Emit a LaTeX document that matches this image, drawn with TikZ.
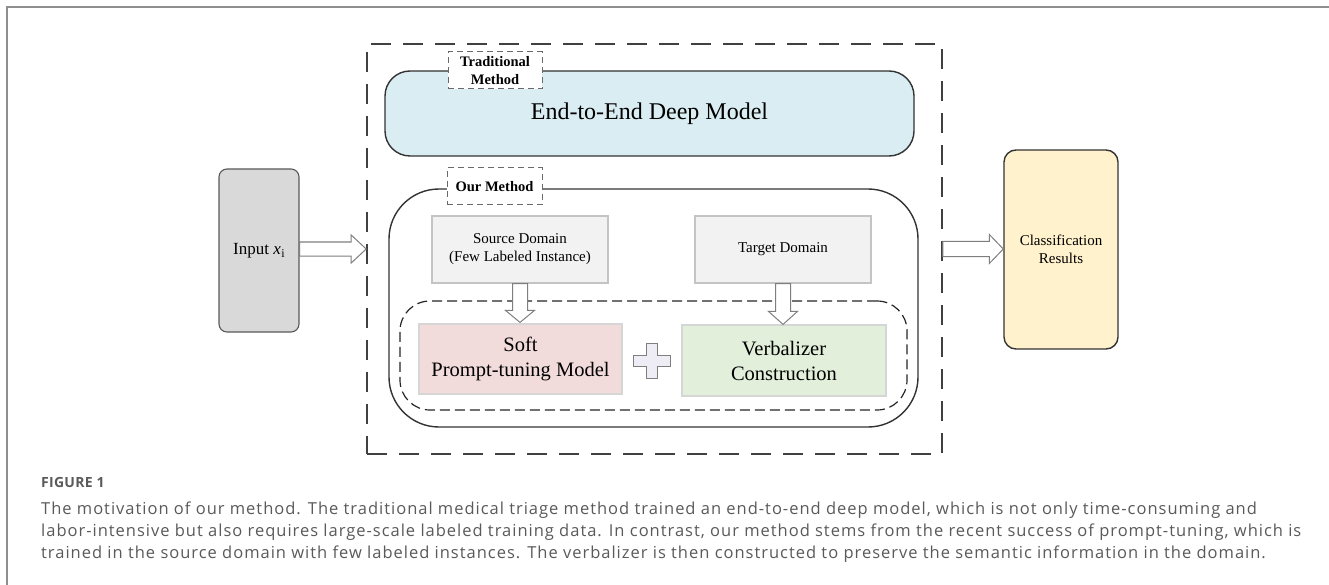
\documentclass[tikz,border=0pt]{standalone}
\usepackage{graphicx}
\usepackage{fontspec}
\setmainfont{Liberation Serif}
\newfontfamily\capfont[LetterSpace=6]{Open Sans}
\newfontfamily\figfont[LetterSpace=2]{Open Sans}
\usetikzlibrary{calc}
\definecolor{framegray}{HTML}{8E8E8E}
\definecolor{dashgray}{HTML}{404040}
\definecolor{lblgray}{HTML}{6A6A6A}
\definecolor{bluefill}{HTML}{DAEDF2}
\definecolor{boxgray}{HTML}{F2F2F2}
\definecolor{boxline}{HTML}{C4C4C4}
\definecolor{pinkfill}{HTML}{F2DCDB}
\definecolor{greenfill}{HTML}{E2EFDA}
\definecolor{yellowfill}{HTML}{FFF2CC}
\definecolor{inputfill}{HTML}{D9D9D9}
\definecolor{plusfill}{HTML}{EEEDF5}
\definecolor{arrowgray}{HTML}{7F7F7F}
\definecolor{captext}{HTML}{5A5A5A}
\tikzset{
  bigdash/.style={draw=dashgray, line width=1.6pt, dash pattern=on 20pt off 12pt, inner sep=0pt},
  roundbox/.style={draw=black!80, line width=1.4pt, inner sep=0pt, align=center},
  lblbox/.style={draw=lblgray, fill=white, line width=1pt, dash pattern=on 6pt off 4pt, inner sep=0pt, align=center, font=\fontsize{14.5}{18}\selectfont\bfseries},
  graybox/.style={draw=boxline, fill=boxgray, line width=1.2pt, inner sep=0pt, align=center, font=\fontsize{15}{18}\selectfont},
  modelbox/.style={draw=boxline!70, line width=1.2pt, inner sep=0pt, align=center, font=\fontsize{20.5}{25}\selectfont},
  innerdash/.style={draw=black!85, line width=1.2pt, dash pattern=on 10pt off 5pt, rounded corners=30pt, inner sep=0pt},
  blk/.style={draw=arrowgray, fill=white, line width=1pt, line join=miter},
  plusst/.style={draw=arrowgray, fill=plusfill, line width=1pt},
  capline/.style={anchor=base west, inner sep=0pt, text=captext, font=\capfont\fontsize{16.5}{20}\selectfont},
}
\begin{document}
\begin{tikzpicture}[x=1pt,y=-1pt]
\useasboundingbox (0,0) rectangle (1329,585);
\fill[white] (0,0) rectangle (1329,585);
% outer frame
\draw[framegray, line width=2pt] (7,590) -- (7,7) -- (1335,7);

% big dashed container
\node[bigdash, minimum width=575pt, minimum height=410pt] (big) at (654.5,249) {};

% traditional method
\node[roundbox, fill=bluefill, rounded corners=25pt, minimum width=529pt, minimum height=85pt,
      font=\fontsize{24}{28}\selectfont] (e2e) at (649.5,113.5) {End-to-End Deep Model};
\node[lblbox, minimum width=94pt, minimum height=37pt] (trad) at (495,70.5) {Traditional\\Method};

% our method
\node[roundbox, rounded corners=50pt, minimum width=529pt, minimum height=238pt] (our) at (653.5,308) {};
\node[lblbox, minimum width=95pt, minimum height=37pt] (ourlbl) at (494.5,186.5) {Our Method};

\node[graybox, minimum width=176pt, minimum height=67pt] (src) at (520,249.5) {Source Domain\\(Few Labeled Instance)};
\node[graybox, minimum width=176pt, minimum height=67pt] (tgt) at (783,249.5) {Target Domain};

\node[innerdash, minimum width=507pt, minimum height=109pt] (inner) at (653.5,355.5) {};

\node[modelbox, fill=pinkfill, minimum width=203pt, minimum height=70pt] (soft) at (520.5,359) {Soft\\Prompt-tuning Model};
\node[modelbox, fill=greenfill, minimum width=204pt, minimum height=71pt] (verb) at (784,360.5) {Verbalizer\\Construction};

% plus sign
\coordinate (plus) at (651.5,360.5);
\draw[plusst] let \p1=(plus) in
  (\x1-18.5pt,\y1+5.5pt) -- (\x1-5.5pt,\y1+5.5pt) -- (\x1-5.5pt,\y1+17.5pt) -- (\x1+5.5pt,\y1+17.5pt)
  -- (\x1+5.5pt,\y1+5.5pt) -- (\x1+18.5pt,\y1+5.5pt) -- (\x1+18.5pt,\y1-5.5pt) -- (\x1+5.5pt,\y1-5.5pt)
  -- (\x1+5.5pt,\y1-17.5pt) -- (\x1-5.5pt,\y1-17.5pt) -- (\x1-5.5pt,\y1-5.5pt) -- (\x1-18.5pt,\y1-5.5pt) -- cycle;

% input and output
\node[draw=black!65, line width=1.1pt, fill=inputfill, rounded corners=8pt, minimum width=80pt, minimum height=163pt,
      inner sep=0pt, font=\fontsize{17}{20}\selectfont] (in) at (259,250.5)
      {Input \textit{x}\kern0.5pt\raisebox{-3.5pt}{\fontsize{12}{12}\selectfont i}};
\node[draw=black!80, line width=1.4pt, fill=yellowfill, rounded corners=12pt, minimum width=114pt, minimum height=199pt,
      inner sep=0pt, align=center, font=\fontsize{15}{18.5}\selectfont] (cls) at (1061,249.5) {Classification\\Results};

% block arrows
\draw[blk] let \p1=(in.east |- big.west), \p2=(big.west) in
  (\x1,\y1+7pt) -- (\x2-15pt,\y1+7pt) -- (\x2-15pt,\y1+14pt) -- (\x2,\y1) -- (\x2-15pt,\y1-14pt)
  -- (\x2-15pt,\y1-7pt) -- (\x1,\y1-7pt) -- cycle;
\draw[blk] let \p1=(big.east), \p2=(cls.west |- big.east) in
  (\x1,\y1+7.5pt) -- (\x2-14pt,\y1+7.5pt) -- (\x2-14pt,\y1+14.5pt) -- (\x2,\y1) -- (\x2-14pt,\y1-14.5pt)
  -- (\x2-14pt,\y1-7.5pt) -- (\x1,\y1-7.5pt) -- cycle;
\draw[blk] let \p1=(src.south), \p2=(soft.north) in
  (\x1-7.5pt,\y1) -- (\x1-7.5pt,\y2+13pt) -- (\x1-14.5pt,\y2+13pt) -- (\x1,\y2+1pt) -- (\x1+14.5pt,\y2+13pt)
  -- (\x1+7.5pt,\y2+13pt) -- (\x1+7.5pt,\y1) -- cycle;
\draw[blk] let \p1=(tgt.south), \p2=(verb.north) in
  (\x1-7.5pt,\y1) -- (\x1-7.5pt,\y2+13pt) -- (\x1-14.5pt,\y2+13pt) -- (\x1,\y2) -- (\x1+14.5pt,\y2+13pt)
  -- (\x1+7.5pt,\y2+13pt) -- (\x1+7.5pt,\y1) -- cycle;

% caption
\node[capline, font=\figfont\fontsize{14}{16}\selectfont\bfseries] (fig) at (41,487) {FIGURE 1};
\node[capline] (c1) at (41,514) {The motivation of our method. The traditional medical triage method trained an end-to-end deep model, which is not only time-consuming and};
\node[capline] (c2) at (41,536) {labor-intensive but also requires large-scale labeled training data. In contrast, our method stems from the recent success of prompt-tuning, which is};
\node[capline] (c3) at (41,558) {trained in the source domain with few labeled instances. The verbalizer is then constructed to preserve the semantic information in the domain.};
\end{tikzpicture}
\end{document}
